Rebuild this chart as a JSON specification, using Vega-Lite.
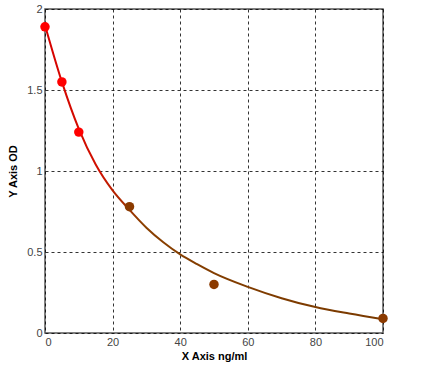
{
  "$schema": "https://vega.github.io/schema/vega-lite/v6.json",
  "autosize": "none",
  "width": 338,
  "height": 324,
  "padding": {"left": 45, "top": 9, "right": 38, "bottom": 45},
  "background": "white",
  "config": {
    "view": {"stroke": "#555555", "strokeWidth": 1.5},
    "font": "Liberation Sans",
    "axis": {
      "grid": true,
      "gridColor": "#000000",
      "gridDash": [3, 3],
      "gridOpacity": 0.8,
      "domain": false,
      "ticks": false,
      "labelFont": "Liberation Sans",
      "labelFontSize": 11,
      "labelColor": "#444444",
      "labelPadding": 3,
      "titleFont": "Liberation Sans",
      "titleFontSize": 11,
      "titleFontWeight": "bold",
      "titleColor": "#000000"
    }
  },
  "datasets": {
    "points": [
      {"x": 0, "y": 1.89, "grp": "a"},
      {"x": 5, "y": 1.55, "grp": "a"},
      {"x": 10, "y": 1.24, "grp": "a"},
      {"x": 25, "y": 0.78, "grp": "b"},
      {"x": 50, "y": 0.30, "grp": "b"},
      {"x": 100, "y": 0.09, "grp": "b"}
    ],
    "curve": [
      {"x": 0, "y": 1.9},
      {"x": 5, "y": 1.55},
      {"x": 10, "y": 1.26},
      {"x": 15, "y": 1.04},
      {"x": 20, "y": 0.88},
      {"x": 25, "y": 0.76},
      {"x": 30, "y": 0.65},
      {"x": 35, "y": 0.56},
      {"x": 40, "y": 0.485},
      {"x": 45, "y": 0.425},
      {"x": 50, "y": 0.37},
      {"x": 60, "y": 0.285},
      {"x": 70, "y": 0.215},
      {"x": 80, "y": 0.16},
      {"x": 90, "y": 0.12},
      {"x": 100, "y": 0.085}
    ]
  },
  "layer": [
    {
      "data": {"name": "curve"},
      "mark": {
        "type": "line",
        "interpolate": "monotone",
        "strokeWidth": 2,
        "stroke": {
          "gradient": "linear",
          "x1": 0, "y1": 0, "x2": 0, "y2": 1,
          "stops": [
            {"offset": 0, "color": "#d80000"},
            {"offset": 0.5, "color": "#d01000"},
            {"offset": 0.68, "color": "#8b4000"},
            {"offset": 1, "color": "#7a3a00"}
          ]
        }
      },
      "encoding": {
        "x": {
          "field": "x", "type": "quantitative",
          "scale": {"domain": [0, 100], "nice": false},
          "axis": {"values": [0, 20, 40, 60, 80, 100], "format": "d", "title": "X Axis ng/ml", "titlePadding": 3}
        },
        "y": {
          "field": "y", "type": "quantitative",
          "scale": {"domain": [0, 2], "nice": false},
          "axis": {"values": [0, 0.5, 1, 1.5, 2], "format": "~g", "title": "Y Axis OD", "titlePadding": 8}
        }
      }
    },
    {
      "data": {"name": "points"},
      "mark": {"type": "circle", "size": 90, "opacity": 1},
      "encoding": {
        "x": {"field": "x", "type": "quantitative"},
        "y": {"field": "y", "type": "quantitative"},
        "color": {
          "field": "grp", "type": "nominal",
          "scale": {"domain": ["a", "b"], "range": ["#ff0000", "#8b3a00"]},
          "legend": null
        }
      }
    }
  ]
}
